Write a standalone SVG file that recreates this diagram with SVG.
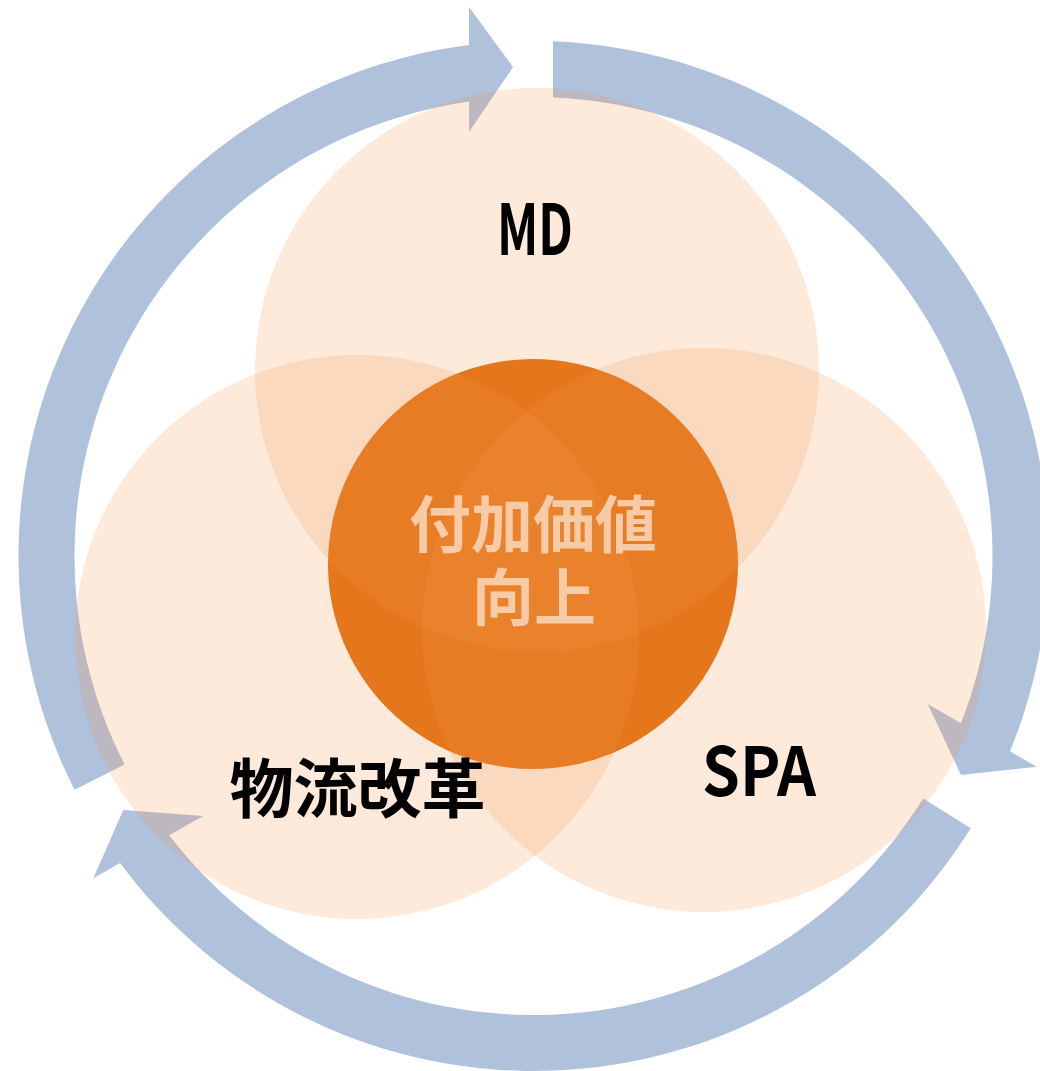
<svg xmlns="http://www.w3.org/2000/svg" width="1040" height="1071" viewBox="0 0 1040 1071">
  <style>
    .arrow { fill: #B0C1DC; stroke: none; }
    .venn { fill: #F5964B; fill-opacity: 0.2; stroke: none; }
    .core { fill: #E26F10; stroke: none; }
    .label { font-family: "Noto Sans CJK JP", "Liberation Sans", sans-serif; font-weight: 700; fill: #000000; text-anchor: middle; }
    .core-label { font-family: "Noto Sans CJK JP", "Liberation Sans", sans-serif; font-weight: 700; fill: #F8CBA8; text-anchor: middle; font-size: 62px; }
  </style>
  <rect x="0" y="0" width="1040" height="1071" fill="#FFFFFF"/>
  <g id="connectors">
    <path id="arrow-left" class="arrow" d="M74.63,789.80 A515,515 0 0 1 469,45.05 L469,7 L513,67 L469,132 L469,101.55 A459,459 0 0 0 124.53,764.38 Z"/>
    <path id="arrow-right" class="arrow" d="M553,41.37 A515,515 0 0 1 1010.0,751.35 L1036.7,766.7 L961,775 L927.7,704 L960.99,723.15 A459,459 0 0 0 553,97.41 Z"/>
    <path id="arrow-bottom" class="arrow" d="M970.72,828.15 A515,515 0 0 1 120.10,863.12 L93.3,878.3 L123.3,810 L203.3,816 L169.24,835.29 A459,459 0 0 0 923.18,798.55 Z"/>
  </g>
  <g id="node-center-circle">
    <circle class="core" cx="533" cy="564" r="205"/>
  </g>
  <g id="node-md">
    <circle class="venn" cx="537" cy="370" r="282"/>
  </g>
  <g id="node-logistics">
    <circle class="venn" cx="357" cy="637" r="282"/>
  </g>
  <g id="node-spa">
    <circle class="venn" cx="704" cy="630" r="282"/>
  </g>
  <g id="labels">
    <text class="label" x="535" y="255" font-size="70" textLength="76" lengthAdjust="spacingAndGlyphs">MD</text>
    <text class="label" x="759" y="796" font-size="68" textLength="114" lengthAdjust="spacingAndGlyphs">SPA</text>
    <text class="label" x="357.5" y="812" font-size="64">物流改革</text>
    <text class="core-label" x="533" y="548">付加価値</text>
    <text class="core-label" x="534" y="621">向上</text>
  </g>
</svg>
